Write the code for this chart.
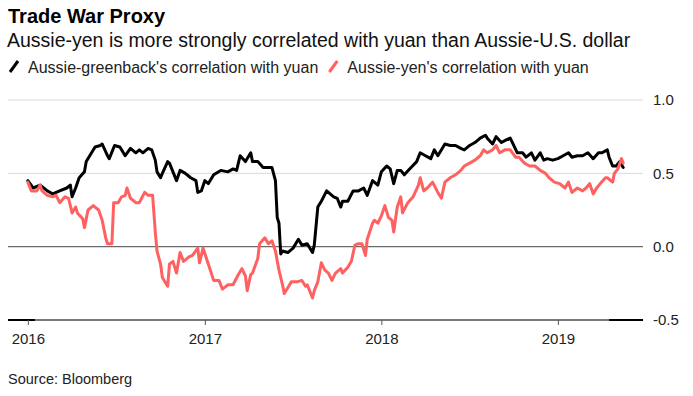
<!DOCTYPE html>
<html>
<head>
<meta charset="utf-8">
<script src="https://cdn.jsdelivr.net/npm/d3@7"></script>
<style>
  body { margin: 0; background: #fff; }
  svg { display: block; font-family: "Liberation Sans", Arial, sans-serif; }
</style>
</head>
<body>
<div id="area"></div>
<script>
const width = 693;
const height = 396;

const title = "Trade War Proxy";
const subtitle = "Aussie-yen is more strongly correlated with yuan than Aussie-U.S. dollar";
const source = "Source: Bloomberg";
const seriesNames = ["Aussie-greenback's correlation with yuan", "Aussie-yen's correlation with yuan"];
const seriesColors = ["#000000", "#ff6161"];

const yTicks = [1.0, 0.5, 0.0, -0.5];
const xTickYears = [2016, 2017, 2018, 2019];

// time as decimal year, value = correlation
const audUsdTimes = [
  2016.00, 2016.03, 2016.07, 2016.11, 2016.14, 2016.18, 2016.22, 2016.24, 2016.25, 2016.27,
  2016.29, 2016.32, 2016.33, 2016.36, 2016.38, 2016.41, 2016.42, 2016.45, 2016.46, 2016.48,
  2016.49, 2016.52, 2016.55, 2016.58, 2016.61, 2016.63, 2016.65, 2016.68, 2016.70, 2016.72,
  2016.73, 2016.75, 2016.76, 2016.79, 2016.80, 2016.82, 2016.84, 2016.86, 2016.89, 2016.92,
  2016.95, 2016.96, 2016.98, 2017.00, 2017.02, 2017.05, 2017.09, 2017.13, 2017.16, 2017.18,
  2017.20, 2017.23, 2017.26, 2017.27, 2017.30, 2017.33, 2017.36, 2017.38, 2017.40, 2017.41,
  2017.42, 2017.43, 2017.44, 2017.47, 2017.50, 2017.53, 2017.55, 2017.58, 2017.61, 2017.62,
  2017.64, 2017.66, 2017.69, 2017.71, 2017.73, 2017.75, 2017.77, 2017.78, 2017.81, 2017.84,
  2017.87, 2017.90, 2017.92, 2017.95, 2017.98, 2018.00, 2018.03, 2018.05, 2018.07, 2018.09,
  2018.11, 2018.13, 2018.16, 2018.20, 2018.22, 2018.25, 2018.28, 2018.30, 2018.32, 2018.36,
  2018.39, 2018.42, 2018.45, 2018.47, 2018.50, 2018.53, 2018.56, 2018.59, 2018.60, 2018.63,
  2018.65, 2018.68, 2018.71, 2018.73, 2018.75, 2018.77, 2018.80, 2018.82, 2018.85, 2018.87,
  2018.90, 2018.92, 2018.94, 2018.97, 2019.00, 2019.03, 2019.06, 2019.08, 2019.11, 2019.14,
  2019.17, 2019.20, 2019.23, 2019.25, 2019.28, 2019.29, 2019.31, 2019.33, 2019.35, 2019.37
];
const audUsdValues = [
  0.45, 0.40, 0.42, 0.38, 0.36, 0.38, 0.40, 0.42, 0.34, 0.40,
  0.47, 0.51, 0.58, 0.64, 0.68, 0.69, 0.70, 0.62, 0.60, 0.66,
  0.69, 0.68, 0.62, 0.67, 0.64, 0.66, 0.64, 0.67, 0.66, 0.59,
  0.51, 0.47, 0.50, 0.58, 0.57, 0.51, 0.45, 0.52, 0.50, 0.47,
  0.45, 0.37, 0.38, 0.45, 0.43, 0.49, 0.52, 0.51, 0.53, 0.52,
  0.62, 0.58, 0.64, 0.58, 0.58, 0.54, 0.54, 0.54, 0.45, 0.20,
  0.16, -0.05, -0.03, -0.04, -0.01, 0.05, 0.01, 0.02, -0.04, 0.01,
  0.27, 0.31, 0.38, 0.36, 0.34, 0.33, 0.27, 0.31, 0.31, 0.38,
  0.38, 0.40, 0.35, 0.45, 0.42, 0.51, 0.55, 0.53, 0.43, 0.52,
  0.52, 0.49, 0.53, 0.58, 0.64, 0.62, 0.60, 0.66, 0.62, 0.70,
  0.69, 0.69, 0.67, 0.66, 0.69, 0.71, 0.74, 0.76, 0.74, 0.70,
  0.75, 0.71, 0.73, 0.74, 0.69, 0.64, 0.64, 0.61, 0.64, 0.59,
  0.64, 0.59, 0.60, 0.59, 0.60, 0.62, 0.64, 0.61, 0.62, 0.62,
  0.64, 0.60, 0.64, 0.64, 0.66, 0.61, 0.55, 0.55, 0.58, 0.54
];

const audJpyTimes = [
  2016.00, 2016.02, 2016.05, 2016.07, 2016.08, 2016.11, 2016.14, 2016.16, 2016.18, 2016.21,
  2016.23, 2016.25, 2016.27, 2016.28, 2016.31, 2016.32, 2016.34, 2016.37, 2016.40, 2016.42,
  2016.44, 2016.45, 2016.475, 2016.485, 2016.51, 2016.53, 2016.55, 2016.56, 2016.58, 2016.61,
  2016.63, 2016.66, 2016.68, 2016.705, 2016.72, 2016.73, 2016.75, 2016.76, 2016.79, 2016.80,
  2016.82, 2016.84, 2016.86, 2016.88, 2016.91, 2016.93, 2016.96, 2016.97, 2016.99, 2017.02,
  2017.05, 2017.08, 2017.10, 2017.13, 2017.16, 2017.19, 2017.21, 2017.23, 2017.24, 2017.26,
  2017.27, 2017.30, 2017.31, 2017.34, 2017.36, 2017.38, 2017.40, 2017.42, 2017.44, 2017.45,
  2017.47, 2017.49, 2017.52, 2017.55, 2017.57, 2017.58, 2017.61, 2017.62, 2017.64, 2017.66,
  2017.68, 2017.70, 2017.72, 2017.74, 2017.77, 2017.78, 2017.81, 2017.83, 2017.85, 2017.87,
  2017.89, 2017.91, 2017.92, 2017.95, 2017.96, 2017.98, 2018.00, 2018.02, 2018.04, 2018.06,
  2018.07, 2018.09, 2018.11, 2018.12, 2018.15, 2018.18, 2018.21, 2018.22, 2018.24, 2018.26,
  2018.29, 2018.32, 2018.34, 2018.36, 2018.39, 2018.42, 2018.45, 2018.47, 2018.50, 2018.53,
  2018.56, 2018.58, 2018.60, 2018.63, 2018.65, 2018.67, 2018.70, 2018.73, 2018.76, 2018.78,
  2018.81, 2018.84, 2018.87, 2018.90, 2018.93, 2018.95, 2018.98, 2019.01, 2019.04, 2019.06,
  2019.08, 2019.11, 2019.14, 2019.16, 2019.18, 2019.20, 2019.22, 2019.24, 2019.27, 2019.28,
  2019.31, 2019.32, 2019.34, 2019.36, 2019.37
];
const audJpyValues = [
  0.44, 0.38, 0.38, 0.42, 0.38, 0.35, 0.34, 0.35, 0.30, 0.34,
  0.33, 0.23, 0.27, 0.23, 0.19, 0.13, 0.25, 0.28, 0.25, 0.18,
  0.06, 0.02, 0.02, 0.30, 0.30, 0.34, 0.35, 0.40, 0.33, 0.30,
  0.30, 0.37, 0.35, 0.35, 0.10, -0.03, -0.12, -0.21, -0.27, -0.12,
  -0.10, -0.18, -0.04, -0.10, -0.07, -0.06, -0.01, -0.11, -0.01, -0.12,
  -0.23, -0.23, -0.29, -0.26, -0.26, -0.19, -0.15, -0.20, -0.30, -0.19,
  -0.18, -0.08, 0.02, 0.06, 0.02, 0.04, -0.03, -0.16, -0.26, -0.32,
  -0.28, -0.24, -0.24, -0.23, -0.27, -0.26, -0.35, -0.30, -0.24, -0.11,
  -0.16, -0.18, -0.23, -0.18, -0.15, -0.18, -0.14, -0.10, 0.01, 0.02,
  0.02, -0.06, 0.05, 0.16, 0.18, 0.16, 0.21, 0.28, 0.20, 0.18,
  0.10, 0.27, 0.34, 0.23, 0.30, 0.34, 0.42, 0.47, 0.38, 0.40,
  0.44, 0.37, 0.33, 0.44, 0.47, 0.49, 0.52, 0.55, 0.57, 0.59,
  0.62, 0.66, 0.64, 0.66, 0.69, 0.64, 0.66, 0.66, 0.61, 0.61,
  0.57, 0.55, 0.55, 0.52, 0.50, 0.47, 0.44, 0.43, 0.40, 0.44,
  0.37, 0.40, 0.38, 0.40, 0.43, 0.36, 0.40, 0.43, 0.47, 0.47,
  0.44, 0.50, 0.53, 0.60, 0.57
];

function yearToDate(t) {
  const y = Math.floor(t);
  const start = Date.UTC(y, 0, 1);
  const end = Date.UTC(y + 1, 0, 1);
  return new Date(start + (t - y) * (end - start));
}

const series = [
  { name: seriesNames[0], color: seriesColors[0], data: audUsdTimes.map((t, i) => ({ date: yearToDate(t), value: audUsdValues[i] })) },
  { name: seriesNames[1], color: seriesColors[1], data: audJpyTimes.map((t, i) => ({ date: yearToDate(t), value: audJpyValues[i] })) },
];

const plot = { left: 8, right: 643, top: 100, bottom: 320 };

const x = d3
  .scaleUtc()
  .domain([new Date(Date.UTC(2015, 10, 21)), new Date(Date.UTC(2019, 5, 26))])
  .range([plot.left, plot.right]);

const y = d3
  .scaleLinear()
  .domain([-0.5, 1.0])
  .range([plot.bottom, plot.top]);

const svg = d3
  .select("#area")
  .append("svg")
  .attr("width", width)
  .attr("height", height);

// Titles
svg.append("text")
  .attr("x", 8).attr("y", 23)
  .attr("font-size", 20).attr("font-weight", "bold").attr("fill", "#000")
  .text(title);

svg.append("text")
  .attr("x", 7).attr("y", 47)
  .attr("font-size", 19.5).attr("fill", "#111")
  .text(subtitle);

// Legend
const legend = svg.append("g").attr("transform", "translate(8, 73)");
let lx = 0;
series.forEach((s) => {
  const g = legend.append("g").attr("transform", `translate(${lx}, 0)`);
  g.append("line")
    .attr("x1", 2).attr("y1", -1).attr("x2", 10).attr("y2", -12)
    .attr("stroke", s.color).attr("stroke-width", 3);
  const t = g.append("text")
    .attr("x", 20).attr("y", 0)
    .attr("font-size", 16).attr("fill", "#222")
    .text(s.name);
  lx += 20 + t.node().getComputedTextLength() + 9;
});

// Gridlines
svg.append("g")
  .selectAll("line")
  .data(yTicks.filter((d) => d > 0))
  .join("line")
  .attr("x1", plot.left).attr("x2", plot.right)
  .attr("y1", (d) => y(d)).attr("y2", (d) => y(d))
  .attr("stroke", "#d9d9d9").attr("stroke-width", 1);

svg.append("line")
  .attr("x1", plot.left).attr("x2", plot.right)
  .attr("y1", y(0)).attr("y2", y(0))
  .attr("stroke", "#6b6b6b").attr("stroke-width", 1.2);

// Right axis labels
svg.append("g")
  .selectAll("text")
  .data(yTicks)
  .join("text")
  .attr("x", 653)
  .attr("y", (d) => y(d))
  .attr("dy", "0.35em")
  .attr("font-size", 15).attr("fill", "#222")
  .text((d) => d3.format(".1f")(d).replace("−", "-"));

// Bottom axis
svg.append("line")
  .attr("x1", plot.left).attr("x2", plot.right)
  .attr("y1", y(-0.5)).attr("y2", y(-0.5))
  .attr("stroke", "#000").attr("stroke-width", 2);

svg.append("line")
  .attr("x1", x(yearToDate(2016.04))).attr("x2", x(yearToDate(2019.29)))
  .attr("y1", y(-0.5)).attr("y2", y(-0.5))
  .attr("stroke", "#7a7a7a").attr("stroke-width", 2);

const xAxis = d3
  .axisBottom(x)
  .tickValues(xTickYears.map((yr) => new Date(Date.UTC(yr, 0, 1))))
  .tickFormat(d3.utcFormat("%Y"))
  .tickSize(5)
  .tickPadding(8);

const gx = svg.append("g")
  .attr("transform", `translate(0, ${y(-0.5)})`)
  .call(xAxis);
gx.select(".domain").remove();
gx.selectAll(".tick line").attr("stroke", "#555");
gx.selectAll(".tick text")
  .attr("font-size", 15)
  .attr("font-family", "Liberation Sans, Arial, sans-serif")
  .attr("fill", "#222");

// Lines
const line = d3
  .line()
  .x((d) => x(d.date))
  .y((d) => y(d.value));

series.forEach((s) => {
  svg.append("path")
    .attr("fill", "none")
    .attr("stroke", s.color)
    .attr("stroke-width", 3)
    .attr("stroke-linejoin", "round")
    .attr("stroke-linecap", "round")
    .attr("d", line(s.data));
});

// Source
svg.append("text")
  .attr("x", 8).attr("y", 384)
  .attr("font-size", 14.5).attr("fill", "#222")
  .text(source);
</script>
</body>
</html>
